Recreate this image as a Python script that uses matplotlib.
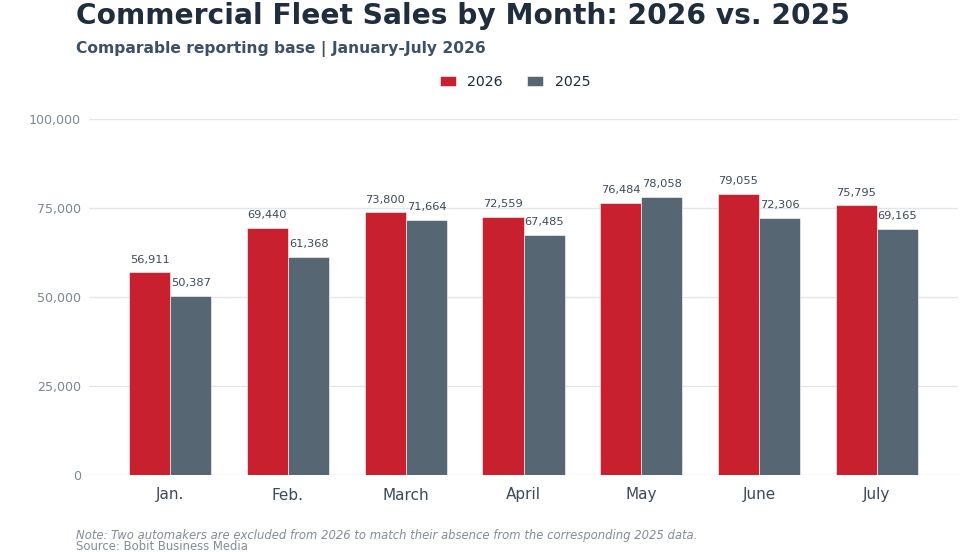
import matplotlib
matplotlib.use("Agg")
import matplotlib.pyplot as plt
import numpy as np
from matplotlib.ticker import FuncFormatter, FixedLocator

months = ["Jan.", "Feb.", "March", "April", "May", "June", "July"]
sales_2026 = [56911, 69440, 73800, 72559, 76484, 79055, 75795]
sales_2025 = [50387, 61368, 71664, 67485, 78058, 72306, 69165]
y_ticks = [0, 25000, 50000, 75000, 100000]

RED = "#c8202f"
GREY = "#566773"
DARK = "#1f2d3d"
SUB = "#3d5166"
LABEL = "#3d4a5a"
TICK = "#7d8893"

plt.rcParams['font.family'] = ['DejaVu Sans']
fig = plt.figure(figsize=(9.8, 5.52), dpi=100)
ax = fig.add_axes([89/980, 1 - 475/552, (958-89)/980, (475-119)/552])

x = np.arange(len(months))
w = 0.35
b1 = ax.bar(x - w/2, sales_2026, w, color=RED, label="2026", edgecolor="white", linewidth=0.4, zorder=3)
b2 = ax.bar(x + w/2, sales_2025, w, color=GREY, label="2025", edgecolor="white", linewidth=0.4, zorder=3)

for bars, vals in ((b1, sales_2026), (b2, sales_2025)):
    for r, v in zip(bars, vals):
        ax.annotate(f"{v:,}", (r.get_x() + r.get_width()/2, v), xytext=(0, 5.5),
                    textcoords="offset points", ha="center", va="bottom",
                    fontsize=8.2, color=LABEL)

ax.set_ylim(0, 100000)
ax.set_xlim(-0.69, 6.69)
ax.yaxis.set_major_locator(FixedLocator(y_ticks))
ax.yaxis.set_major_formatter(FuncFormatter(lambda v, p: f"{int(v):,}"))
ax.set_xticks(x)
ax.set_xticklabels(months)
ax.tick_params(axis="y", length=0, labelsize=9.1, labelcolor=TICK, pad=5.8)
ax.tick_params(axis="x", length=0, labelsize=11, labelcolor=LABEL, pad=9)
ax.grid(axis="y", color="#e2e6ea", linewidth=1, zorder=0)
ax.set_axisbelow(True)
for s in ax.spines.values():
    s.set_visible(False)
ax.axhline(0, color="#f3f4f6", linewidth=1, zorder=1)

fig.text(76/980, 1 - 16/552, "Commercial Fleet Sales by Month: 2026 vs. 2025",
         fontsize=20.25, fontweight="bold", color=DARK, va="center", ha="left")
fig.text(76/980, 1 - 49/552, "Comparable reporting base | January-July 2026",
         fontsize=11.15, fontweight="bold", color=SUB, va="center", ha="left")

leg = fig.legend(handles=[b1, b2], labels=["2026", "2025"], loc="center",
                 bbox_to_anchor=(515/980, 1 - 82/552), ncol=2, frameon=False,
                 fontsize=10.2, handlelength=1.15, handleheight=0.75, columnspacing=1.7,
                 handletextpad=0.8)
for t in leg.get_texts():
    t.set_color(DARK)

fig.text(76/980, 1 - 535/552,
         "Note: Two automakers are excluded from 2026 to match their absence from the corresponding 2025 data.",
         fontsize=8.33, style="italic", color="#838d97", va="center", ha="left")
fig.text(76/980, 1 - 546.5/552, "Source: Bobit Business Media",
         fontsize=8.33, color="#838d97", va="center", ha="left")

fig.savefig("out.png", dpi=100)
